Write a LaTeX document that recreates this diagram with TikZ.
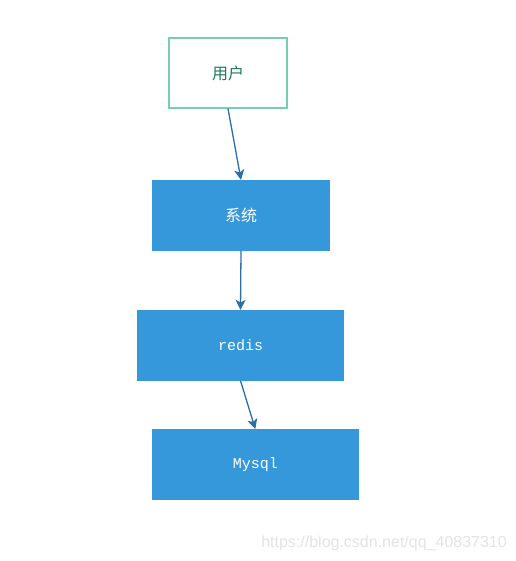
\documentclass[tikz,border=0pt]{standalone}
\usepackage{fontspec}
\setmainfont{Liberation Sans}
\newfontfamily\cjk{Noto Sans CJK SC}
\newfontfamily\monof{Liberation Mono}
\usetikzlibrary{arrows.meta}
\definecolor{boxblue}{HTML}{3598DB}
\definecolor{arrowblue}{HTML}{2A6FA8}
\definecolor{tealborder}{HTML}{78CDB5}
\definecolor{tealtext}{HTML}{1A7A5C}
\definecolor{wmgray}{HTML}{E4E4E4}
\tikzset{
  bluebox/.style={rectangle, fill=boxblue, draw=none, inner sep=0pt, text=white, font=\fontsize{15pt}{18pt}\selectfont},
  userbox/.style={rectangle, fill=white, draw=tealborder, line width=1.2pt, inner sep=0pt, text=tealtext, font=\cjk\fontsize{16pt}{18pt}\selectfont},
  conn/.style={draw=arrowblue, line width=1.3pt, -{Stealth[length=10pt,width=10pt,inset=2.5pt]}}
}
\begin{document}
\begin{tikzpicture}[x=1pt,y=-1pt]
\useasboundingbox (0,0) rectangle (515,561);
\fill[white] (0,0) rectangle (515,561);
\node[userbox, minimum width=118pt, minimum height=70pt] (user) at (228,73) {用户};
\node[bluebox, minimum width=178pt, minimum height=70.5pt, font=\cjk\fontsize{16pt}{18pt}\selectfont] (sys) at (241,215.3) {系统};
\node[bluebox, minimum width=206.5pt, minimum height=70.5pt, font=\monof\fontsize{15pt}{18pt}\selectfont] (redis) at (240.5,345.3) {redis};
\node[bluebox, minimum width=206.5pt, minimum height=70.5pt, font=\monof\fontsize{15pt}{18pt}\selectfont] (mysql) at (255.3,464.5) {Mysql};
\draw[conn] (user.south) -- (sys.north);
\draw[conn] (sys.south) -- (redis.north);
\draw[conn] (redis.south) -- (mysql.north);
\node[anchor=east, text=wmgray, inner sep=0pt, font=\fontsize{16pt}{18pt}\selectfont] (wm) at (507,543) {https://blog.csdn.net/qq\_40837310};
\end{tikzpicture}
\end{document}
